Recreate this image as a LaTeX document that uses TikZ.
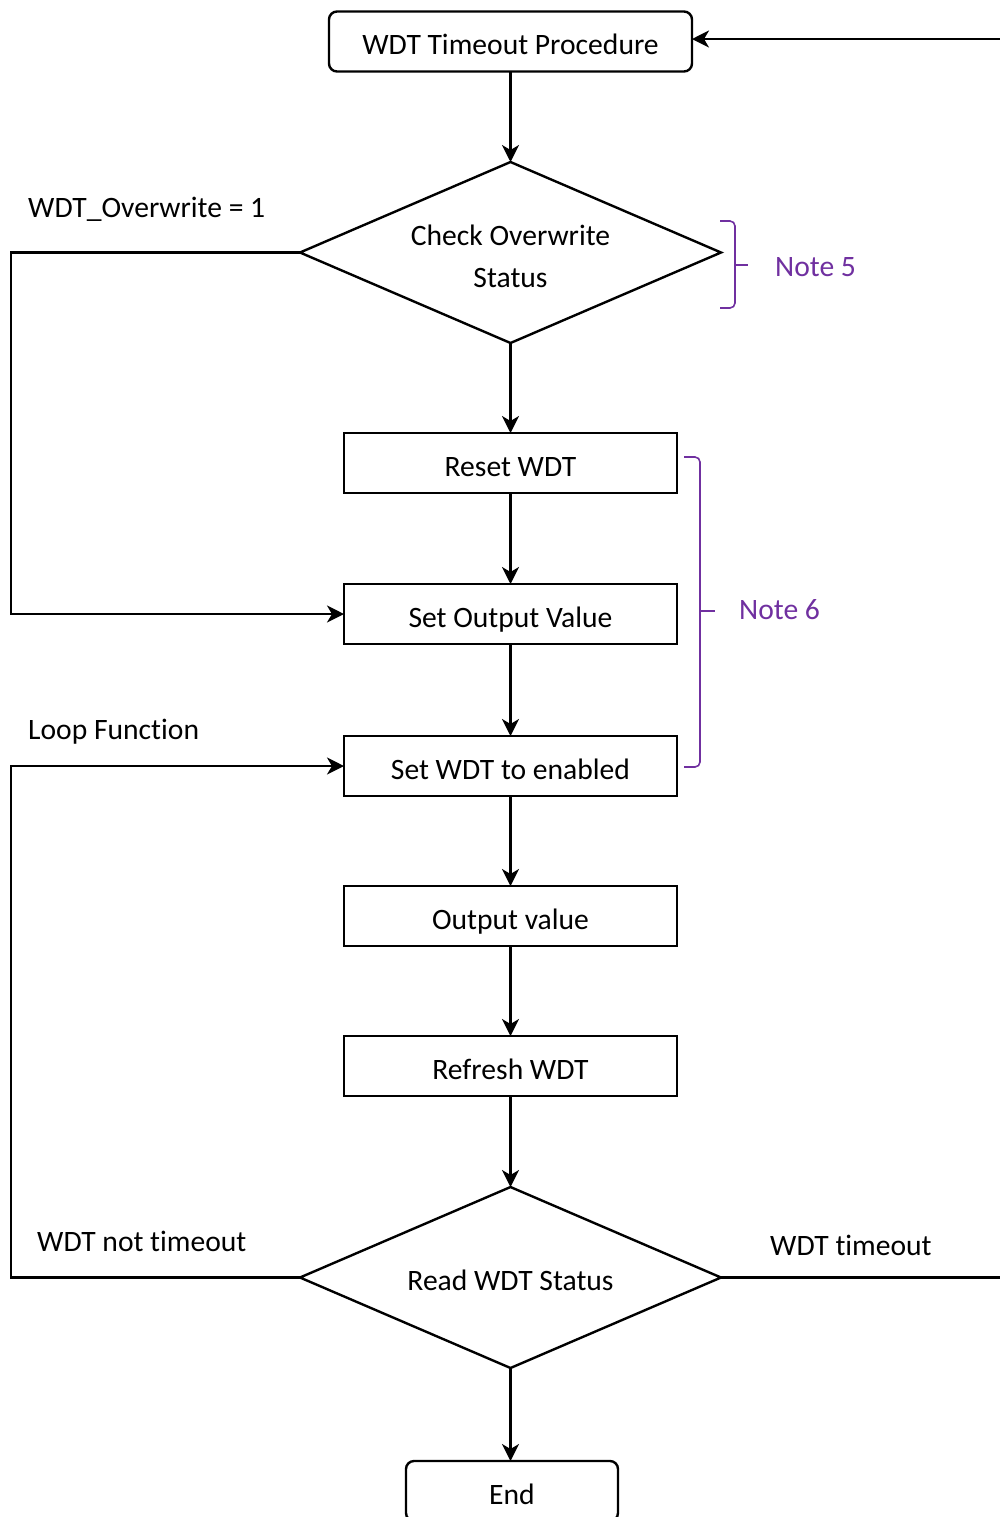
\documentclass[tikz,border=0pt]{standalone}
\usepackage{fontspec}
\setmainfont{Carlito}[Ligatures=CommonOff]
\usetikzlibrary{shapes.geometric,arrows.meta}
\definecolor{notepurple}{RGB}{112,48,160}
\begin{document}
\begin{tikzpicture}[x=0.5pt,y=-0.5pt,
  font=\fontsize{14.8}{21}\selectfont,
  line width=1.2pt,
  arr/.style={-{Stealth[length=8.5pt,width=8.5pt,inset=2.5pt]}},
  procbox/.style={draw,rectangle,minimum width=166.5pt,minimum height=30pt,inner sep=0pt,outer sep=0pt,text height=13.5pt,text depth=0pt},
  termbox/.style={draw,rectangle,rounded corners=4pt,minimum height=30pt,inner sep=0pt,outer sep=0pt,text height=13pt,text depth=0pt},
  decision/.style={draw,diamond,aspect=2.33,minimum width=210.5pt,minimum height=90.5pt,inner sep=0pt,outer sep=0pt},
  lbl/.style={anchor=base west,inner sep=0pt},
  note/.style={anchor=west,inner sep=0pt,text=notepurple},
  brace/.style={draw=notepurple,line width=0.8pt,rounded corners=2.5pt}]
\useasboundingbox (0,0) rectangle (1000,1517);

\node[termbox,minimum width=181.5pt] (start) at (510.5,41.5) {WDT Timeout Procedure};
\node[decision] (chk) at (510.5,252.5) {\raisebox{-3pt}[\height][\depth]{\begin{tabular}{@{}c@{}}Check Overwrite\\Status\end{tabular}}};
\node[procbox] (reset) at (510.5,463) {Reset WDT};
\node[procbox] (setout) at (510.5,614) {Set Output Value};
\node[procbox] (setwdt) at (510.5,766) {Set WDT to enabled};
\node[procbox] (outval) at (510.5,916) {Output value};
\node[procbox] (refresh) at (510.5,1066) {Refresh WDT};
\node[decision,text height=13pt,text depth=0pt] (rd) at (510.5,1277.5) {Read WDT Status};
\node[termbox,minimum width=106pt] (end) at (512,1491) {End};

\draw[arr] (start) -- (chk);
\draw[arr] (chk) -- (reset);
\draw[arr] (reset) -- (setout);
\draw[arr] (setout) -- (setwdt);
\draw[arr] (setwdt) -- (outval);
\draw[arr] (outval) -- (refresh);
\draw[arr] (refresh) -- (rd);
\draw[arr] (rd.south) -- (rd.south |- end.north);

\coordinate (lft1) at (11,252.5);
\coordinate (lft2) at (11,1277.5);
\coordinate (rgt) at (1002,1277.5);
\draw[arr] (chk.west) -- (lft1) |- (setout.west);
\draw[arr] (rd.west) -- (lft2) |- (setwdt.west);
\draw[arr] (rd.east) -- (rgt) |- ([yshift=1.25pt]start.east);

\node[lbl] (l1) at (27,217) {WDT\_Overwrite = 1};
\node[lbl] (l2) at (27,739) {Loop Function};
\node[lbl] (l3) at (36,1251) {WDT not timeout};
\node[lbl] (l4) at (769,1255) {WDT timeout};

\draw[brace] (720,221) -- (735,221) -- (735,308) -- (720,308);
\draw[draw=notepurple,line width=0.8pt] (735,265) -- (748,265);
\node[note] (n5) at (774,267) {Note 5};

\draw[brace] (684,457) -- (700,457) -- (700,767) -- (684,767);
\draw[draw=notepurple,line width=0.8pt] (700,611) -- (715,611);
\node[note] (n6) at (738,610) {Note 6};
\end{tikzpicture}
\end{document}
